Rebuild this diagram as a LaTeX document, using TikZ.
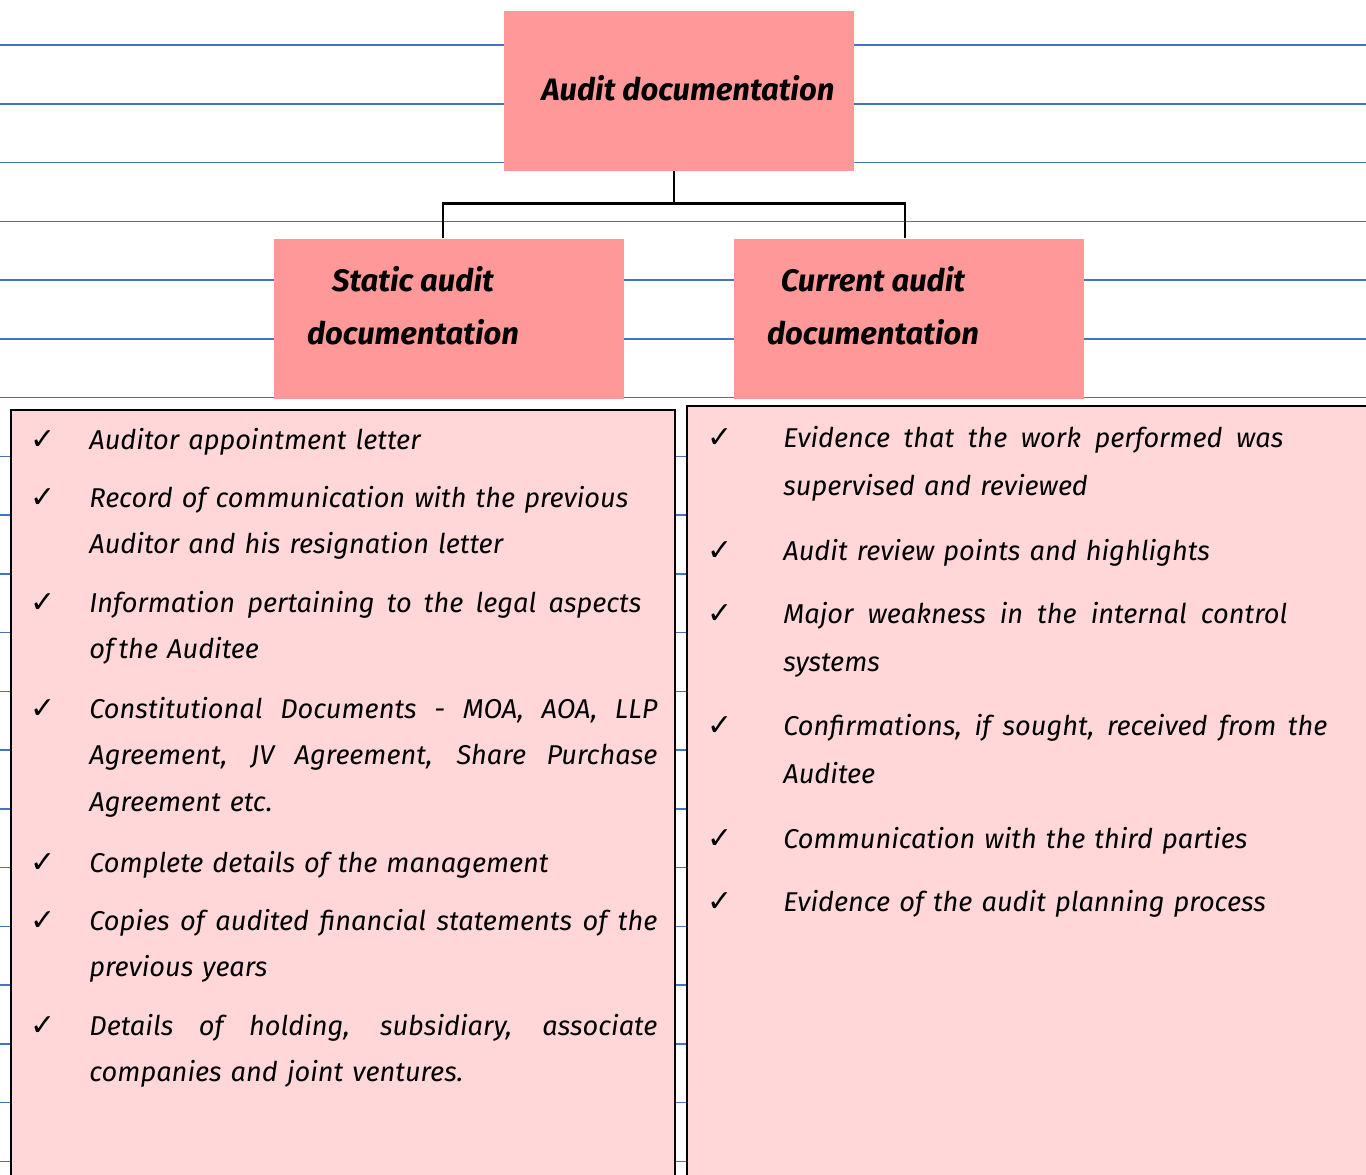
\documentclass[tikz,border=0pt]{standalone}
\usepackage{fontspec}
\setmainfont{Fira Sans}
\newfontfamily\tickfont{DejaVu Sans}
\usetikzlibrary{positioning}
\definecolor{rulecol}{HTML}{4472C4}
\definecolor{headfill}{HTML}{FF9999}
\definecolor{listfill}{HTML}{FFD7D8}
\newcommand{\spreadline}[2]{\makebox[#1][s]{\spaceskip=0pt\xspaceskip=0pt #2}}
\tikzset{
  rule/.style={draw=rulecol, line width=0.75pt},
  headbox/.style={fill=headfill, minimum width=175pt, minimum height=80pt, inner sep=0pt},
  headtext/.style={font=\fontsize{15.5}{26.5}\selectfont\bfseries\itshape, align=center, inner sep=0pt, anchor=base},
  conn/.style={draw=black, line width=1.25pt},
  listbox/.style={fill=listfill, draw=black, line width=1.3pt},
  lefttext/.style={font=\fontsize{13.6}{23.25}\selectfont\itshape, text width=290pt, align=left, inner sep=0pt, anchor=base west},
  righttext/.style={font=\fontsize{13.6}{24.3}\selectfont\itshape, text width=290pt, align=left, inner sep=0pt, anchor=base west},
  tick/.style={font=\tickfont\fontsize{15}{16}\selectfont, inner sep=0pt, anchor=base}
}
\begin{document}
\begin{tikzpicture}[x=0.5pt,y=-0.5pt]
\useasboundingbox (0,0) rectangle (1366,1174);
\clip (0,0) rectangle (1366,1174);
\fill[white] (0,0) rectangle (1366,1174);
% ruled paper
\foreach \k in {0,...,19}
  \draw[rule] (0,{45+58.75*\k}) -- (1366,{45+58.75*\k});
% headings
\node[headbox] (top) at (679,91) {};
\node[headtext] (toptxt) at (688,100) {Audit documentation};
\node[headbox] (static) at (449,318.5) {};
\node[headtext] (stattxt) at (413,344) {Static audit\\documentation};
\node[headbox] (current) at (909,318.5) {};
\node[headtext] (curtxt) at (873,344) {Current audit\\documentation};
% tree lines
\draw[conn] ([xshift=-2.5pt]top.south) -- ++(0,32) -| ([xshift=-3pt]static.north);
\draw[conn] ([xshift=-2.5pt]top.south) -- ++(0,32) -| ([xshift=-2pt]current.north);
% static list
\draw[listbox] (11,410) rectangle (675,1190);
\node[tick] (st1) at (43,449) {✓};
\node[lefttext] (s1) at (89,449) {Auditor appointment letter};
\node[tick] (st2) at (43,507) {✓};
\node[lefttext] (s2) at (89,507) {Record of communication with the previous\\Auditor and his resignation letter};
\node[tick] (st3) at (43,612) {✓};
\node[lefttext] (s3) at (89,612) {\spreadline{276pt}{Information pertaining to the legal aspects}\\of\,the Auditee};
\node[tick] (st4) at (43,718) {✓};
\node[lefttext] (s4) at (89,718) {\spreadline{284pt}{Constitutional Documents - MOA, AOA, LLP}\\\spreadline{284pt}{Agreement, JV Agreement, Share Purchase}\\Agreement etc.};
\node[tick] (st5) at (43,872) {✓};
\node[lefttext] (s5) at (89,872) {Complete details of the management};
\node[tick] (st6) at (43,930) {✓};
\node[lefttext] (s6) at (89,930) {\spreadline{284pt}{Copies of audited financial statements of the}\\previous years};
\node[tick] (st7) at (43,1035) {✓};
\node[lefttext] (s7) at (89,1035) {\spreadline{284pt}{Details of holding, subsidiary, associate}\\companies and joint ventures.};
% current list
\draw[listbox] (687,406) rectangle (1380,1190);
\node[tick] (ct1) at (720,447) {✓};
\node[righttext] (c1) at (783,447) {\spreadline{250pt}{Evidence that the work performed was}\\supervised and reviewed};
\node[tick] (ct2) at (720,560) {✓};
\node[righttext] (c2) at (783,560) {Audit review points and highlights};
\node[tick] (ct3) at (720,623) {✓};
\node[righttext] (c3) at (783,623) {\spreadline{252pt}{Major weakness in the internal control}\\systems};
\node[tick] (ct4) at (720,735) {✓};
\node[righttext] (c4) at (783,735) {\spreadline{272pt}{Confirmations, if sought, received from the}\\Auditee};
\node[tick] (ct5) at (720,848) {✓};
\node[righttext] (c5) at (783,848) {Communication with the third parties};
\node[tick] (ct6) at (720,911) {✓};
\node[righttext] (c6) at (783,911) {Evidence of the audit planning process};
\end{tikzpicture}
\end{document}
